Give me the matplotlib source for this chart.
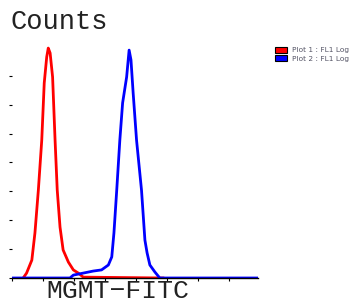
import numpy as np
import matplotlib
matplotlib.use('Agg')
import matplotlib.pyplot as plt
from matplotlib.patches import Patch

# 直方图数据
red_x = [0.37, 0.48, 0.65, 0.75, 0.86, 0.97, 1.05, 1.13, 1.18, 1.24, 1.32, 1.40,
         1.47, 1.56, 1.66, 1.83, 1.99, 2.15, 2.31, 4.88]
red_y = [0.0, 0.17, 0.62, 1.56, 3.04, 4.77, 6.75, 7.65, 7.96, 7.79, 6.96, 4.77,
         3.04, 1.76, 0.97, 0.55, 0.28, 0.17, 0.03, 0.0]
blue_x = [0.0, 1.88, 1.99, 2.31, 2.63, 2.90, 3.12, 3.23, 3.30, 3.39, 3.49, 3.58,
          3.71, 3.79, 3.85, 3.92, 4.03, 4.19, 4.30, 4.37, 4.46, 4.62, 4.78, 7.95]
blue_y = [0.0, 0.0, 0.1, 0.17, 0.24, 0.28, 0.45, 0.73, 1.56, 3.04, 4.77, 6.06,
          6.96, 7.89, 7.55, 6.41, 4.77, 3.04, 1.31, 0.87, 0.45, 0.21, 0.0, 0.0]
labels = ['Plot 1 : FL1 Log', 'Plot 2 : FL1 Log']

W, H = 351, 304
fig = plt.figure(figsize=(W / 100, H / 100), dpi=100)
ax = fig.add_axes([11.7 / W, 26 / H, (258 - 11.7) / W, 238 / H])
ax.plot(red_x, red_y, color='#ff0000', lw=2, solid_joinstyle='round')
ax.plot(blue_x, blue_y, color='#0000ff', lw=2, solid_joinstyle='round')
ax.set_xlim(0, 7.95)
ax.set_ylim(0, 8.24)
ax.set_xticks(range(8))
ax.set_yticks(range(8))
ax.set_xticklabels([])
ax.set_yticklabels([])
for s in ['top', 'right', 'left']:
    ax.spines[s].set_visible(False)
ax.spines['bottom'].set_linewidth(1)
ax.tick_params(axis='both', length=2.5, width=0.8, color='black')

fig.text(11 / W, 1 - 29 / H, 'Counts', fontsize=19.5, family='Liberation Mono',
         color='#222222', va='baseline')
fig.text(46 / W, 1 - 298.5 / H, 'MGMT−FITC', fontsize=19, family='Liberation Mono',
         color='#222222', va='baseline')

handles = [Patch(facecolor='#ff0000', edgecolor='black', lw=0.8),
           Patch(facecolor='#0000ff', edgecolor='black', lw=0.8)]
fig.legend(handles, labels, loc='upper left', bbox_to_anchor=(275 / W, 1 - 47 / H),
           frameon=False, fontsize=5.3, handlelength=1.6, handleheight=0.8,
           labelspacing=0.25, handletextpad=0.65, borderpad=0, borderaxespad=0,
           labelcolor='#555566')

fig.savefig('out.png', dpi=100)
